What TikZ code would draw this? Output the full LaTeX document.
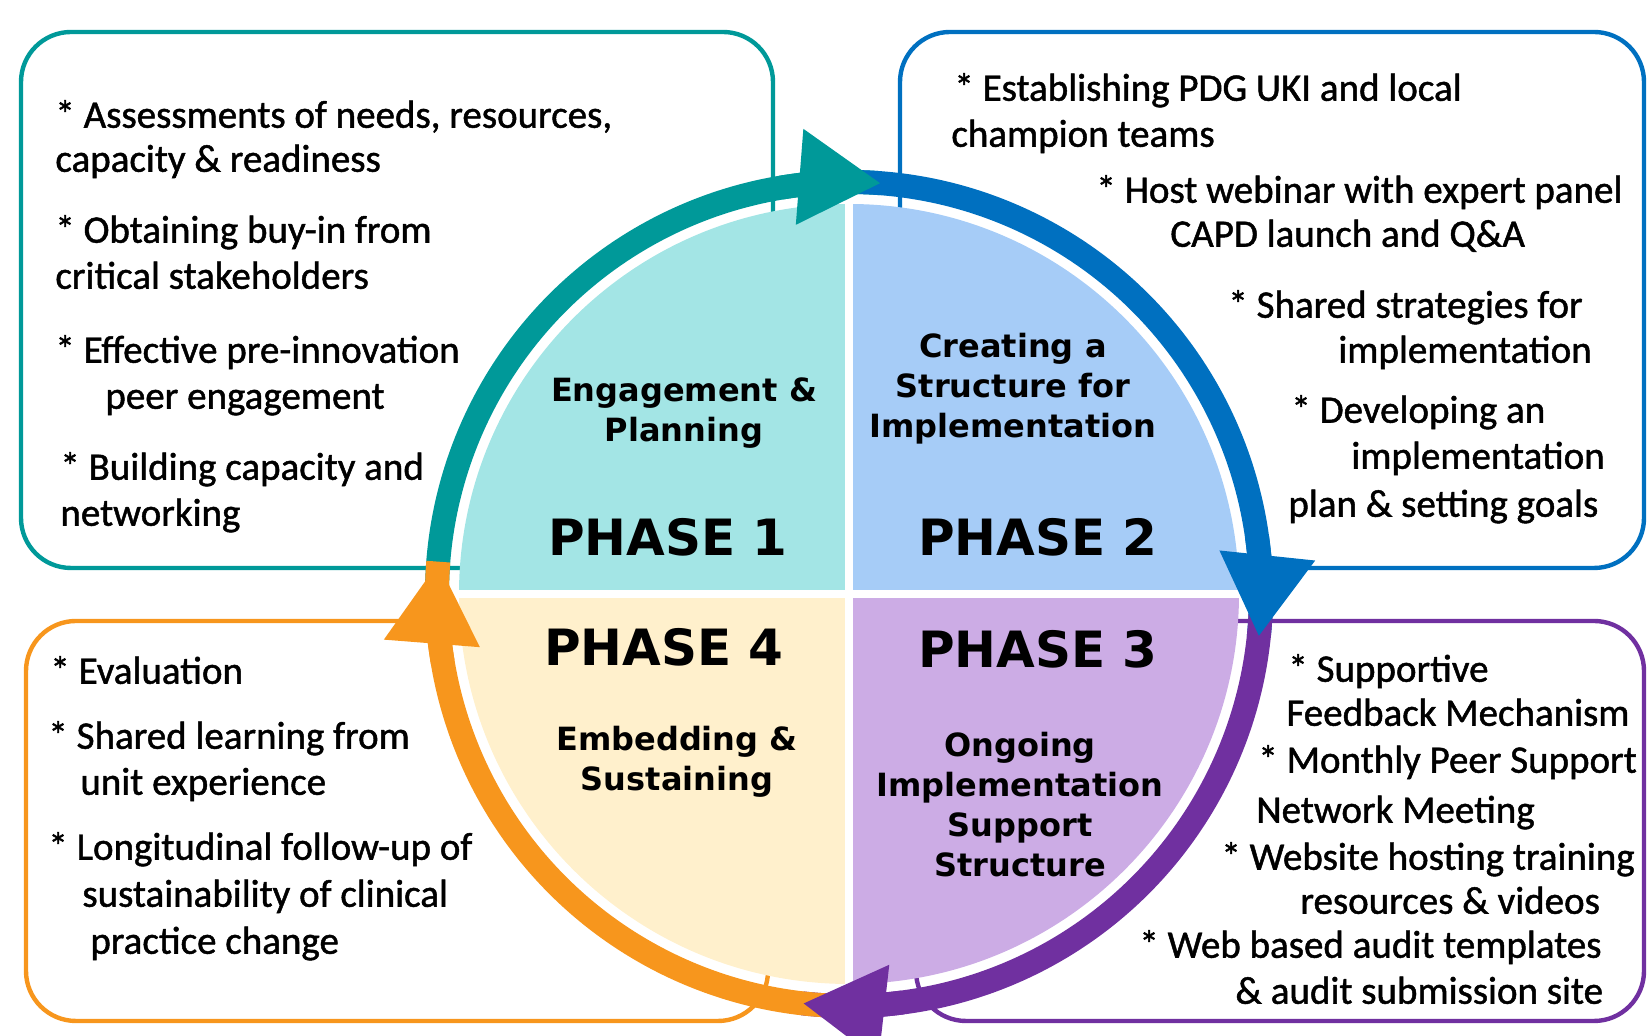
\documentclass[tikz,border=0pt]{standalone}
\usepackage{fontspec}
\setmainfont{Carlito}[FakeBold=1.2]
\newfontfamily\headfont{DejaVu Sans}
\usetikzlibrary{arrows.meta,positioning}
\definecolor{phaseteal}{RGB}{0,153,153}
\definecolor{phaseblue}{RGB}{0,112,192}
\definecolor{phasepurple}{RGB}{112,48,160}
\definecolor{phaseorange}{RGB}{247,150,29}
\definecolor{tealfill}{RGB}{163,229,229}
\definecolor{bluefill}{RGB}{166,204,247}
\definecolor{purplefill}{RGB}{204,172,229}
\definecolor{orangefill}{RGB}{255,240,204}

\begin{document}
\begin{tikzpicture}[x=0.5pt, y=0.5pt, font=\fontsize{19.5}{23.5}\selectfont]
      \tikzstyle{panel}=[line width=2.2pt, rounded corners=25pt]
      \tikzstyle{item}=[anchor=mid west, inner sep=0pt]
      \tikzstyle{phase}=[font=\headfont\bfseries\fontsize{25}{30}\selectfont, inner sep=0pt]
      \tikzstyle{stage}=[font=\headfont\bfseries\fontsize{16}{20}\selectfont, align=center, inner sep=0pt]
      \tikzstyle{band}=[line width=12pt]
      \tikzstyle{head}=[line width=12pt, -{Triangle[width=45pt, length=41pt]}]
      \useasboundingbox (0,0) rectangle (1650,1036);
      \coordinate (C) at (849,442);

      % boxes behind the wheel
      \draw[panel, phaseteal] (21,468) rectangle (773,1004);
      \draw[panel, phaseblue] (900,468) rectangle (1644,1004);
      \draw[panel, phaseorange] (26,15) rectangle (768,415);
      \draw[panel, phasepurple] (916,15) rectangle (1644,415);

      % quadrants
      \fill[tealfill] (C) -- ++(90:390) arc[start angle=90, end angle=180, radius=390] -- cycle;
      \fill[bluefill] (C) -- ++(0:390) arc[start angle=0, end angle=90, radius=390] -- cycle;
      \fill[purplefill] (C) -- ++(-90:390) arc[start angle=-90, end angle=0, radius=390] -- cycle;
      \fill[orangefill] (C) -- ++(180:390) arc[start angle=180, end angle=270, radius=390] -- cycle;
      \draw[white, line width=4pt] (C) ++(-392,0) -- ++(784,0);
      \draw[white, line width=4pt] (C) ++(0,-392) -- ++(0,784);

      % ring, then the heads on top
      \foreach \col/\a/\b in {phaseteal/182/85.5, phaseblue/92/-6, phasepurple/2/-96.5, phaseorange/-88/-184.5}
        \draw[band, \col] (C) ++(\a:412) arc[start angle=\a, end angle=\b, radius=412];
      \foreach \col/\b in {phaseteal/85.5, phaseblue/-6, phasepurple/-96.5, phaseorange/-184.5}
        \draw[head, \col] (C) ++(\b+14:412) arc[start angle=\b+14, end angle=\b, radius=412];

      \node[phase] (p1) at (668,499) {PHASE 1};
      \node[phase] (p2) at (1038,499) {PHASE 2};
      \node[phase] (p3) at (1038,387) {PHASE 3};
      \node[phase] (p4) at (664,389) {PHASE 4};
      \node[stage] (s1) at (684,623) {Engagement \&\\Planning};
      \node[stage] (s2) at (1013,647) {Creating a\\Structure for\\Implementation};
      \node[stage] (s3) at (1020,231) {Ongoing\\Implementation\\Support\\Structure};
      \node[stage] (s4) at (677,274) {Embedding \&\\Sustaining};

      \foreach \x/\y/\txt [count=\i] in {55/913/{* Assessments of needs, resources,}, 55/869/{capacity \& readiness},
          55/798/{* Obtaining buy-in from}, 55/752/{critical stakeholders}, 55/678/{* Effective pre-innovation},
          105/632/{peer engagement}, 60/561/{* Building capacity and}, 60/515/{networking}}
        \node[item] (a\i) at (\x,\y) {\txt};
      \foreach \x/\y/\txt [count=\i] in {954/940/{* Establishing PDG UKI and local}, 951/894/{champion teams},
          1096/838/{* Host webinar with expert panel}, 1170/794/{CAPD launch and Q\&A},
          1228/723/{* Shared strategies for}, 1338/678/{implementation}, 1291/618/{* Developing an},
          1351/572/{implementation}, 1288/524/{plan \& setting goals}}
        \node[item] (b\i) at (\x,\y) {\txt};
      \foreach \x/\y/\txt [count=\i] in {1288/359/{* Supportive}, 1286/315/{Feedback Mechanism},
          1258/268/{* Monthly Peer Support}, 1256/218/{Network Meeting}, 1221/171/{* Website hosting training},
          1300/127/{resources \& videos}, 1139/83/{* Web based audit templates}, 1235/37/{\& audit submission site}}
        \node[item] (c\i) at (\x,\y) {\txt};
      \foreach \x/\y/\txt [count=\i] in {50/357/{* Evaluation}, 48/292/{* Shared learning from},
          80/246/{unit experience}, 48/181/{* Longitudinal follow-up of}, 82/134/{sustainability of clinical},
          90/87/{practice change}}
        \node[item] (d\i) at (\x,\y) {\txt};

    \end{tikzpicture}
\end{document}
